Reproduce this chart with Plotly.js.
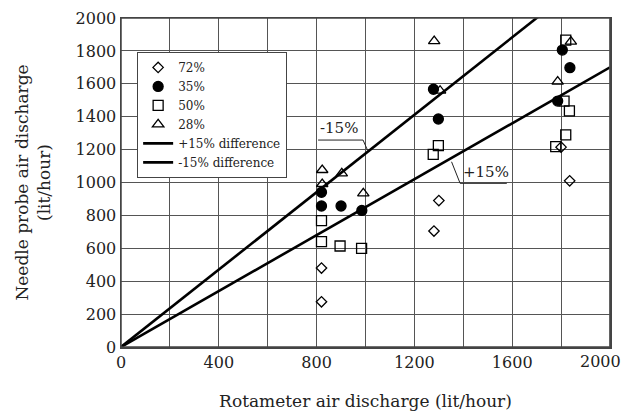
<!DOCTYPE html>
<html><head><meta charset="utf-8">
<script src="https://cdn.plot.ly/plotly-3.0.1.min.js"></script>
<style>html,body{margin:0;padding:0;background:#fff}</style>
</head><body><div id="chart" style="width:625px;height:413px"></div>
<script>
// 72% (open diamonds)
const x72 = [820, 820, 1300, 1280, 1800, 1835];
const y72 = [480, 275, 890, 705, 1215, 1010];
// 35% (filled circles)
const x35 = [820, 820, 900, 985, 1278, 1298, 1805, 1836, 1786];
const y35 = [940, 857, 857, 830, 1567, 1386, 1805, 1698, 1495];
// 50% (open squares)
const x50 = [820, 820, 896, 984, 1298, 1277, 1819, 1812, 1834, 1819, 1778];
const y50 = [768, 640, 614, 600, 1224, 1171, 1866, 1495, 1435, 1289, 1218];
// 28% (open triangles)
const x28 = [823, 823, 903, 991, 1281, 1305, 1840, 1786];
const y28 = [1076, 991, 1056, 934, 1860, 1558, 1856, 1613];
// reference lines
const plusX = [0, 2000];
const plusY = [0, 1700];
const minusX = [0, 2000];
const minusY = [0, 2353];
// x tick labels (last one drawn right-aligned so it stays inside the page)
const xTickVals = [0, 400, 800, 1200, 1600];
const xTickText = ['0', '400', '800', '1200', '1600'];
const xLastTick = 2000;

const FONT = 'DejaVu Serif, Liberation Serif, serif';
const mk = (sym, size) => ({symbol: sym, size: size, color: '#000', line: {color: '#000', width: 1.3}});

const traces = [
  {x: x72, y: y72, name: '72%', mode: 'markers', type: 'scatter', marker: mk('diamond-open', 8)},
  {x: x35, y: y35, name: '35%', mode: 'markers', type: 'scatter', marker: mk('circle', 10)},
  {x: x50, y: y50, name: '50%', mode: 'markers', type: 'scatter', marker: mk('square-open', 10)},
  {x: x28, y: y28, name: '28%', mode: 'markers', type: 'scatter', marker: mk('triangle-up-open', 10)},
  {x: plusX, y: plusY, name: '+15% difference', mode: 'lines', type: 'scatter', line: {color: '#000', width: 2.6}},
  {x: minusX, y: minusY, name: '-15% difference', mode: 'lines', type: 'scatter', line: {color: '#000', width: 2.6}}
];

const layout = {
  width: 625, height: 413,
  margin: {l: 121, r: 15, t: 18, b: 66},
  paper_bgcolor: '#fff', plot_bgcolor: '#fff',
  font: {family: FONT, size: 17, color: '#222'},
  showlegend: true,
  legend: {
    x: 0.033, y: 0.897, xanchor: 'left', yanchor: 'top',
    bgcolor: '#fff', bordercolor: '#444', borderwidth: 1,
    font: {family: FONT, size: 12, color: '#222'},
    itemwidth: 30, tracegroupgap: 0
  },
  xaxis: {
    range: [0, 2000], tickmode: 'array', tickvals: xTickVals, ticktext: xTickText,
    showgrid: true, gridcolor: '#555', gridwidth: 1,
    minor: {dtick: 200, tick0: 0, showgrid: true, gridcolor: '#555', gridwidth: 1},
    showline: true, linecolor: '#444', linewidth: 1.5, mirror: true,
    zeroline: false, ticks: '',
    tickfont: {family: FONT, size: 16, color: '#222'},
    title: {text: 'Rotameter air discharge (lit/hour)', font: {family: FONT, size: 17, color: '#222'}, standoff: 24},
    automargin: false
  },
  yaxis: {
    range: [0, 2000], dtick: 200, tick0: 0,
    showgrid: true, gridcolor: '#555', gridwidth: 1,
    showline: true, linecolor: '#444', linewidth: 1.5, mirror: true,
    zeroline: false, ticks: '', ticklabeloverflow: 'allow',
    tickfont: {family: FONT, size: 16, color: '#222'},
    title: {text: 'Needle probe air discharge<br>(lit/hour)', font: {family: FONT, size: 17, color: '#222'}, standoff: 20},
    automargin: false
  },
  shapes: [
    {type: 'rect', xref: 'paper', yref: 'paper', x0: 0, x1: 1, y0: 0, y1: 1, line: {color: '#444', width: 1.5}, layer: 'above'},
    {type: 'line', xref: 'x', yref: 'paper', x0: 2000, x1: 2000, y0: 0, y1: 1, line: {color: '#555', width: 1}},
    {type: 'path', xref: 'x', yref: 'y', path: 'M 806 1258 L 990 1258 L 1010 1191', line: {color: '#222', width: 1}},
    {type: 'path', xref: 'x', yref: 'y', path: 'M 1352 1126 L 1387 995 L 1578 995', line: {color: '#222', width: 1}}
  ],
  annotations: [
    {x: xLastTick, y: 0, xref: 'x', yref: 'paper', text: String(xLastTick), showarrow: false,
     xanchor: 'right', yanchor: 'top', xshift: 13, yshift: -3, font: {family: FONT, size: 16, color: '#222'}},
    {x: 806, y: 1262, xref: 'x', yref: 'y', text: '-15%', showarrow: false, xanchor: 'left', yanchor: 'bottom', font: {family: FONT, size: 15, color: '#222'}},
    {x: 1390, y: 999, xref: 'x', yref: 'y', text: '+15%', showarrow: false, xanchor: 'left', yanchor: 'bottom', font: {family: FONT, size: 15, color: '#222'}}
  ]
};

Plotly.newPlot('chart', traces, layout, {displayModeBar: false, staticPlot: true});
</script>
</body></html>
